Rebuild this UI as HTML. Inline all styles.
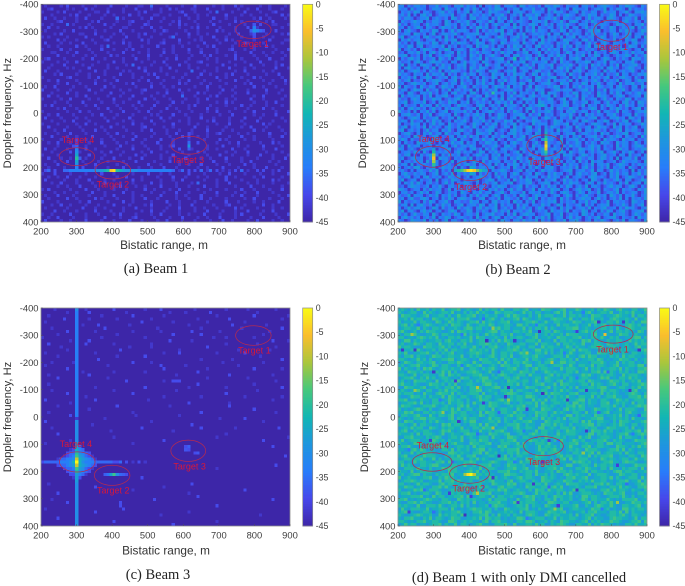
<!DOCTYPE html>
<html lang="en">
<head>
<meta charset="utf-8">
<title>Range-Doppler maps</title>
<style>
html,body{margin:0;padding:0;background:#fff;width:685px;height:586px;overflow:hidden}
svg{display:block}
text{font-family:"Liberation Sans",sans-serif}
.cap{font-family:"Liberation Serif",serif;font-size:14.5px;fill:#222}
</style>
</head>
<body>
<svg id="figure" width="685" height="586" viewBox="0 0 685 586" xmlns="http://www.w3.org/2000/svg">
<defs>
<filter id="soft" x="-2%" y="-2%" width="104%" height="104%"><feGaussianBlur stdDeviation="0.25"/></filter>
</defs>
</svg>
<script>
const rangeTicks = [200,300,400,500,600,700,800,900];
const dopplerTicks = [-400,-300,-200,-100,0,100,200,300,400];
const colorbarTicks = [0,-5,-10,-15,-20,-25,-30,-35,-40,-45];
const parulaStops = [[62,38,168],[71,71,235],[40,125,250],[30,150,222],[18,182,180],[70,200,125],[170,198,60],[250,190,45],[249,251,21]];

// Levels are hex digits: dB = -45 + 3 * digit. Spaces are ignored.
const beam1Rows = [
"01000010200001000100002000010001100300001000010002000001001000201000001001000010",
"00120000101000201000010000100020000100100201000011000200001000010010020001000100",
"10000102000010000110020000100001020000100000120001000010300001000200001000120000",
"00010000010200010000100100002001000011000100002000100100000200001001000010000201",
"02001001000100200001000030100000100200010000100100100002000100100000102001000010",
"00000120000100001020000010001200001000100010200001000010010000201000010010200000",
"10010000301000010000200100001000021000000100201000100002000010000100002000110001",
"00200100000010201000001000110000100200100000100010200100010000100020010000000100",
"01000001002000000100100002000100000010021000001000100000201000100000100100020000",
"00001020000011000200000100100001020000100001000200100100000010020001000010000102",
"10100000100000200001001000020001000100000130000100010002000100001000200100100000",
"00000201000100001000120000100000201000010000200001010000100201000000100002000011",
"02000010010002000100000100201000001000120000100100002000010000100210000100000100",
"00100100000200100001030000001000100002000010010000100102000001000000100020100000",
"10000020010000010002000100010200001000010010000200010000100012000100100000010002",
"00011000100200001000010000200001001000020010000100020000100000100002000100100100",
"00000200001000100100002010000100002000100001000010001020000100200000100010000010",
"01200001000001002000100000100020001000001002000100000100100000201000010002000100",
"10000100100200000010000200100000100010020000001000120000100010000100002000010000",
"00010002000001001000010000010300000100001000200100000100002000100002000100010200",
"00100000101000020000010010000002010000100200000100100000100020000100100000020001",
"02000100000010000200100000101000020000100001000030001000100000100200000100100000",
"00001020000100010000100002000100001020001000001000020010000102000010000010002000",
"10000000120000010020000100000100100002000010010000100000200100001000201000000100",
"00100200000100000100100020000001002000010000100200001000010000200010000100100020",
"00000100200010000200001000010200000100100000201000010010000100000102000001000010",
"01002000001000100000200100000010000200010010000001000200010000100000200100010000",
"20000100010000020001000001001000120000001000200100000100002001000010000020000100",
"00010000200100000100002000100000100001002000010000201000010000100020000010001000",
"00200100000100200000010001000200000100010000030001000010200001000000100200000010",
"10000010020000010010000200001000020010000100001000100200000100100002000100000100",
"00001000100002000001000100100002000001000020010000100000100201000000100010020000",
"01020000010000100200000010000100100020000100000102000010000100002001000010000100",
"00000102000100000010020001000010000100002001000100000200100000100010000200100000",
"10000000100020010000001000200001002000100000100010000100200010000100200000010002",
"00100200001000001002000010000100000101000020001000010000010002000000100100020000",
"02000010000100100000100100002000010000200100000100020001000010000200001000000100",
"00010001002000010000020000100100000200010000100100000102000010001000020000100010",
"10000100000100200100000010000200100010000020000100100000100020000100000201000000",
"00200000100010000001002000100000120000010010000002000100000100001002000010001000",
"00001002000001000200100000010000100200001000100010000200001001000000200100000100",
"01000100020000100000010020000100000010001002000010000100120000010010000002000010",
"00020000100100002000001000100020000100000100020000100100000010002000100001000200",
"10000010000200100001000100000200010000200010000100001000020100000100100000100000",
"00100200010000010002000010010000100002000010000100200000100010020000001000201000",
"00000100002000100000100002000100010000100120000100000100002000010010000200000100",
"02001000100000200100000010000200001000100000200010000100100002000100000100020000",
"00010000020010000001002000100000100200001000010000201000000100100020000010000100",
"10000100000100020000100001000020010000100020000100000100020001000010002000100001",
"00200010010000100001000200001000200000100100002000010010000200001000010000100020",
"00001000200001000010010000100020000010000200100010000002000100001002000001001000",
"01000200000100100200000010010000002000100000100100020000100010000200100000010000",
"00100001000002000100010000200001000100020001000000100100002000010000100020000100",
"00000000000000000000000000000000000000000000000000000000000000000000000000000000",
"10002000010000100002000100000100002000100100000200001000010020000100001000100002",
"00100100200010000100000010020000100001000020001000100100000200100000100200000100",
"02000001000100020000100100000200100000100010020000001000100200001000010000201000",
"00010020000100001000200001000100000200100001000010300000100020000010010000100001",
"00000100100020000100000102000010010000200001000100002000100000100002000100000100",
"10200000010000200010000100010000020010000100200000100010000100002000100001000200",
"00001001000100002000100000200100000100010002000100001000200000100100020000100000",
"01000200001000010000100200000100100000200001001000020000100001002000010000001002",
"00100000200100000201000010000100020001000001000100020010000100000100200001000100",
"20000100000010020000010000200100000100002000100001000100000200010000100100002000",
"00010020010000100010000200001000010200000100100020000001000120000100000200100000",
"01000000100002000100100000100020000100001000200001001000100000201000010000100100",
"00002001000100000200001000100000100200010000100001000200001000100020000100200000",
"10010000020000100010000102000010000100200000100100002000010000102000001000010002",
"00100200001000100000200001000120000010000100020000100100020000100001000200001000",
"02000010010000200001000100002000100001002000010001000010002001000010020000100100"
];
const beam1RidgeAt210Hz = "0230200334 4444444556 78de876555 5444444444 4430130202 0301302010 1020301002 0200102000";
const beam1Peaks = [
[300,108,-40],[300,119,-37],[300,131,-33],[300,143,-30],[300,154,-26],[300,166,-20],[300,177,-26],[300,189,-30],[300,200,-33],[309,166,-37],
[790,-303,-37],[799,-303,-29],[808,-303,-32],[817,-303,-36],[826,-303,-38],[799,-326,-38],[799,-314,-33],[799,-291,-38],
[615,120,-28],[615,108,-36],[615,131,-37],[615,75,-39],[615,86,-39]
];
const beam1Targets = [
["Target 1",797,-306,50,32,795,-255],
["Target 4",301,160,50,33,304,98],
["Target 2",402,209,50,33,402,261],
["Target 3",615,118,50,33,613,172]
];

// Beam 2 noise digits use their own scale, listed here by digit 0-6.
const beam2Levels = [-44,-42,-37,-35,-33,-31,-28];
const beam2Rows = [
"45142553413362452154625341503426514453165243241543652143350452413564321436542153",
"53416244312554163425145263142536641325514436225164413251643351245361425531624342",
"14352651442135625314246153412645323614553126443152645213461532541263451346215564",
"35261415635124543612451634253514462135261543641253152464312536451423651412653245",
"42553124461353241652431562344152635142153264512453621543254136245315642135426153",
"15324645132553164125346214532641541362453215453612436215641352642153245146325314",
"62413541263452165341536241425136325416143256413625145363214451263543126452315462",
"34152463154213645251341526635124154326351426153244136251451362451532641253461524",
"51463215342651413625453126142536461352141536254315326415243125646132541536421365",
"23541652413612553462134456215343162541536124534261451362543152643251364125613452",
"46125341563245162413526431544213652134625413256143526134615324513641253246315416",
"15362452134514263561241536142563245146325135416253412654231562413543261415365124",
"52413165342651241536452136541253164234516324156342153461245136251463154325146235",
"34265146123543615241325416356241431526451431562435142635153246156241353412654152",
"61352413654214365124531642153264512435616243514263541532461253421641352564213415",
"23145362514625134516241536254314263541325613461524351264153425163241564135263451",
"45613241536124356215341642513463215415623541263145263514253614265143125346415236",
"14256351423516425136421534615234561243153642615341526314564132541365214253164525",
"52341463125645231541362453164213542614356125434612516342153465124361542315462134",
"36152415643152634125461352416324515362413625145346123546215341635241426153456213",
"41563241352614536124351642653124541326154362145325146363145261342515634124652315",
"25134652415326143654231526431546213546125413652341534261546213453162541353462142",
"63421534162543615241362541532164351426345126415362134516324153462514236154132546",
"14352613465124351462536124153264153245163421563245612351426341535246132564315214",
"52461324153564213461524315263141536245132461542361534526141352463152436125413645",
"34125643512461352541632415362451261345265143124563216451342651436214531625462351",
"61532416325412653413462153245136452614351261543243651241536243516423514632145163",
"25413654162351426135243615142536124563241532645112463545123562413261435462153241",
"43165214536241351462341562135264351426153425136164521342651435216341526413524635",
"16245351426143562134516325416324151362453146325451621354261542316452135641234516",
"52314641523645124356214153263145261534126453142365124613541623451362415326514235",
"34612543612415326451436125342514635261341524165345213641532461254136243156241653",
"41523416354162534126453214651352416345216143562415234651342615341526431526341452",
"25146352413624153654124351624135261453241563241536145236451324651421536424135614",
"63241514362513461254362415134652341526431516243563124154623541326145326154213546",
"14563251436124534162135246351412653124564152361434125536214163524315462134516325",
"42135641523461324516243153641253642135146325413652414326153424561321546341652413",
"35416234152635124153462145362514326451521436542312654132451563214365124256134615",
"51326451413625416324531264315246135246143216354412653461524312564314261535412364",
"24614352615243146325145263142563125416342561341526431254163245136452163514246135",
"46135241362451536214632415324651242156341452361534162543126145365241324615354216",
"13562141536245163245134216543615231456242531641625341354612453241635124356124526",
"52341653412561324514362635124153264315246136541234516241536134562412536415324163",
"36415224531654213461532145263461521432564135216345216134562413254163542163451325",
"41523164356214152634615241326535124146325413621543246152364142531645216354126314",
"25163451324152641362453641152346215634124516342651431526354124635142316254135642",
"64135216453413256124531462415263145352164235146124536141326534625143215634124356",
"13452641621534352146253412651436235124615241536234156416325413524613462153641251",
"42561315246341526435124136524153614523461253415326241645213652413562341541623415",
"35124634125316452143562613245146324153642516341352641235146325413652416134526134",
"61342545162341352614351264162534514326152463245136254143516241635412351264345216",
"24516134532641435216246351423516241536415263153461241625341352614536124653142535",
"41352662143512645341521362453461243516324152631546213435261462413526143541632152",
"35214145326361425146325413624153465213461534126354212456134523615412635243161425",
"14632535412461352614253461524316245136412351642153634125146342561241536245143625",
"52461341562435126436125134652413625143261534514263541261345214653421536124653241",
"36124514235161342653142536124651432516243651241534612635241341652153246315412365",
"41536263145241362514365214135246135461243562134651241536452136415263421526134516",
"23146542351436214526134516342153654123461524315263514264135261453124635412563142",
"65312441526345126143526231451536241362541236154326451341256346125143246153421536",
"14524136351264125341642153624513462154326145351426314652136415326124536142354126",
"42361544125361436251341526245136415324165213643512541364152463214351642514362135",
"35146225641341526314653412561342614532514263614253416252134645136241352614153426",
"61423531526413462154232645134156243516341526124354615243514362451326145342165341",
"24516146324152635124613452651436152431625414326351264153245162413546124363152461",
"41362553412641524316245314625346135241536241364125316254134526143562341526452135",
"36145214635134125641326514253146253614352461243516345261432651341526413562134561",
"52413632541621534264135426135462341526135644123561436125341652413254163452136425",
"14635241352614365124532416245136514352461241536261345136254135246134562143251634",
"43126543614251361452163452613425164314526343615241253614562134153642135261453216"
];
const beam2Peaks = [
[300,131,-27],[300,143,-22],[300,154,-12],[300,166,-6],[300,177,-12],[300,189,-20],[300,200,-26],
[362,211,-27],[371,211,-22],[379,211,-18],[388,211,-12],[397,211,-4],[405,211,-2],[414,211,-6],[423,211,-14],[432,211,-20],[441,211,-25],[449,211,-28],[405,200,-25],[405,223,-25],
[615,63,-28],[615,75,-24],[615,86,-22],[615,97,-18],[615,108,-10],[615,120,-4],[615,131,-8],[615,143,-18],[615,154,-24],[615,166,-28],
[470,-70,-20],[530,-197,-22],[335,-240,-26],[610,-30,-26]
];
const beam2Targets = [
["Target 1",800,-303,50,39,801,-244],
["Target 4",299,160,50,39,300,94],
["Target 2",404,211,50,37,405,271],
["Target 3",612,119,50,39,612,178]
];

const beam3Rows = [
"00001000000000100000000200000000010000200000000001000000000100000010000000010000",
"00000000100000020000000000010000000000000100001000000020000000000000010000000000",
"00100000000000000001000000000200000000010000000000000000100000000000200000000001",
"00000002000000010000000010000000000100000000000000100000000020000000000000000100",
"01000000000100000000000000000000200000000010000000000100000000000100000000000000",
"00000000000001000020000000001000000000000000000100000000000002000000000010000000",
"00010000000000000000200000000000000001000000000000010000000000001000000000000200",
"00000000200000000100000000000100000000100000000020000000010000000000000001000000",
"00000100000000000000000010000000000000000020000000020000000000000000000100000000",
"10000000000000000001000000000000010000000000000000000001000100000000100000000000",
"00000000010000020000000000000000000000000200000010000000000000000000000000200001",
"00200000000000200000000100000000000100000000000000000000000100000000010000000000",
"00000010000000000000000000001000000100000000000000000200000000000000000000010000",
"00000000100000000000000002000000000000000000100000000000000000010000000001000000",
"01000000000000000100000000000000000000010000200000000000100000000200000000000000",
"00000100000000000000000010000000020000000000000000000000000000000000001000000000",
"00000000000000000020000000000000000000000000000000010000000001000000000000000200",
"00010000001000000000000000000200000100000000000000000000001000000000000100000000",
"01000000000000000000010000000000000000200000001000000000000000010000000000000000",
"00000000200000000000000000000000000000020000000000000100000000000000200000000100",
"00000000000001000000000100000000010000000000000000200000000000000000000000000000",
"00100000000000020000000000000000000000000001000000000000000020000000000000100000",
"00000200000000000000010000000000000000000000000000000100000000000010000000000000",
"00000000000000000000000000020000000000010000100000000000000000000000000000010000",
"00100000000100000000000000000000000000000000000000200000000000000000100000000000",
"00000000000000000100000000000000020000000000000100000000000100000000000000000200",
"00010000000000000000000100000000000000000001000000000000000000000000010000000000",
"00000000200000000000000000000200000000000000000000000000000200000000000000000000",
"00000000000000100000000000000000000000010000000000010000000000000100000000000100",
"02000000000000000200000000000000001000000000000000000000000000000000000000100000",
"00000000010000000000000000000000000000000000000200000000000010000000000000000000",
"00000100000000000000000020000000000000000100000000000000000020000000000000000000",
"00000000000000010000000000000000000000000000000000000000000000000000200000000000",
"00100000000000000000000000000100000000000000000000020000000000000000000000010000",
"00000000020000000000000000000010000000000000100000000000000000000000000000000000",
"00000000000000000000100000000000000000000000000000000000010000000200000000000000",
"02000000000000000000000000000000000100000000000000000000000000000000000100000000",
"00000000000000001000000000000000000000000000000020000000000000000000000000000000",
"00010000000000000000000000000000200000000000000000020000000000100000000000002000",
"00000000000000000000001000000000000000000010000000000000000000000000000000000000",
"00000200000000000000000000000000000000000000000000000000000100000000000000000000",
"00000000000000000000000100000000000000000000000000000000100000000000000000000001",
"00000000010000000000000000000000000000020000000000000000000000000000000200000000",
"01000000000000000000000000000100000000000000000000000000000000000000000000000000",
"0000000000 0230000000 0000000000 0000000000 0000002000 0000000000 0000000000 0000200000",
"0000000001 2343000000 0000000000 0000000000 0000000200 0000000000 0000000000 0000000000",
"0000000023 3454320000 0000000000 0000000000 0000000002 0000000000 0000000000 0000000000",
"0000000123 4565321000 0000000000 0000000000 0000000000 0000000000 0000000000 0000000020",
"0000013344 5676543100 0000000000 0000000000 0000000000 0000000000 0000000000 0000000000",
"0000000000 0000000000 0000000000 0000000000 0000000000 0000000000 0000000000 0000000000",
"0000023345 6676543200 0000000000 0000000000 0000000000 0000000000 0000000000 0000020000",
"0000000233 4565321000 0000000000 0000000000 0000000000 0000001000 0000000000 0000000000",
"0000000023 3454320000 0000000000 0000000000 0000000000 0000000000 0000000000 0000000000",
"0000000002 2343100000 0000000000 0000000000 0000000000 0000000000 0000000000 0000000000",
"0000000000 1320000000 0000000000 0020000000 0000000000 0000000000 0000000000 0000000000",
"00000000000000000000000000000000000000000000000000000000000000000000000000000000",
"00100000000000000000000000000000000000000000000020000000000000000000000000000000",
"00000000000000000200000000000000000000010000000000000000000000000000000000000000",
"00000000000000000000000000000100000000000000000000000000000000000200000000000000",
"00000200000000000000000000000000000000000000000100000000000000000000000000000000",
"00000000000000000000000000000000000000000000000000200000000000000000000000000000",
"00010000000000000000000000000000000020000000000000000000000000000000000000200000",
"00000000200000000000000002000000000000000000000000000000000000000000000000000000",
"00000000000000000000000002000000000000000000000000000000200000000000000000000000",
"01000000000000000000000000200000000000000000000000000000000000000000000000000000",
"00000000000000000200000000000000000000000000000100000000000000000000000000000000",
"00000000000000000000000000000000000000100000000000000000000000000000001000000000",
"00000200000000000000000000000000000000000000000000000000000000000000000000000000",
"00000000000000000000000200000000000000000000000000000000100000000000000000000000",
"00000000000000000000000000000000000000000020000000000000000000000000000000000000"
];
const beam3RidgeAt160Hz = "2333334445 7f75444333 3332230201 0201000000 0000000000 0000000000 0000000000 0000000000";
const beam3RidgeAt300m = "5444444444 4444444444 4444444444 44444 1 5555 55566 789c f c986 665555 5555555555";
const beam3Peaks = [
[379,211,-37],[388,211,-35],[397,211,-26],[405,211,-18],[414,211,-30],[423,211,-36],[432,211,-37],[441,211,-39],
[615,108,-37],[605,120,-38],[640,131,-38],[570,-130,-39],[578,-130,-39],[587,-130,-39]
];
const beam3Targets = [
["Target 1",797,-299,50,36,800,-244],
["Target 4",302,165,50,37,298,98],
["Target 2",400,214,50,37,403,269],
["Target 3",614,124,49,39,618,180]
];

const beam4Rows = [
"78768697786877967889678767968788697768878967769887678967798677868798768977688679",
"87678866978767887967686879787669878887679786886776897968677889767887966878797768",
"69887767896778868679778896768778668979877686797888677968878676988767789877696887",
"77869788676987787968889766787897686778969876787668988779676887977866898778769678",
"86777968877698679878767889697876788967767889867976887767988677896768879778686799",
"78968677898767786988769767887986778876997867888767697887786779687896877668987867",
"67887796876887967787689978867678978867779686887968767788996787677887869768987788",
"89767868798877667969887867767899687768878796677886987677687897886767968878776986",
"76888976677986887767896878679787688796776887967868778698887776896787667988678776",
"88677689878796768878677969886778769687887678967787698877889676887976878667789968",
"67996878767788689776887967887686979877676888796776968878776989687768778866978787",
"78677987688769778868796767889878676987788677968877696887877966788769878678679788",
"97887666988778978676887797686889767878977688669788776798687767889967887678768977",
"68778897677868796887766987878697677889868767997878668778969887667788796878776989",
"87966778897686878967767889877697688786798776887968678879767788669887977687688778",
"76889687767988678877966878767897688796678878977667888697768979886776878697887767",
"88767797868677889967887676988778697868777968876789768878696778879867677988768678",
"67987688778967668879877697688877969768879876786887679978867776888976779687886768",
"78678897767986887668779878966787698877867996788767888679768877968876789677887996",
"96877686989767887877966887687897667889767868978877669788876796878677887968776889",
"77698878676887979686778898767966887787698878667987877688796776889697876878676998",
"88767967887768969878667788977686898767888697776789687887667989767878876697888767",
"67889768797867887676988677899678768878967767886987776868797887667989676887978776",
"78676988877696787889677868798876676988778867976887689678778869877667988786787967",
"89776876679887868796778876689978677887968767889677969887767886978767897688677898",
"66988778967787688979676887867789968877667988767896877868696778878997667887687978",
"78767897688668797887676889967877688796887767978866879787668897776987887676889677",
"87888676977689887968767888696778678998767887676979887768896677887968787667898768",
"76679887868777969876887678978867769687887998767686878797768877968678897766888979",
"88967768776889679878768667988767897687887669787968877867789968776887679878678887",
"67788979676887869778868697766988778967687887969767887786997868776889678787696887",
"79887667888976787768979676887988766787889677968878767688979867766888797686778989",
"86767898768667887979678867887696788776988678769887676897878866798778767968887669",
"77989676887878667987886776969887688779786677988867978766887696788789677868977678",
"68877897669768878967887677986887667897888676978868776799687877698867787968676888",
"87676889978877668968797887667978868776896778869787687968887677889966787878697767",
"76988677868797767889687996677887968768778897666987887767886979768877686988767789",
"88767968877676989788676887969778667888976877669887978768677889968776787987688678",
"67879788669876878877967688798876778668977887699678768887967787886679887778696768",
"78966877887667989767888676977868897667889767968877686798877666988797867678878969",
"87778696888767967877689887676988778966787689878867697788876679968787767889677898",
"66889777687898667887967876888697767998768877686987887867769789667888767968877686",
"79678886776987868777966887988676787889677698878766889767987866778897687876679888",
"87767998678876687897766988778967688877969676888797668778896787768869978867776789",
"68897667787889967678878697887766989767888766797887868679776889678877669887687978",
"77688979867766887968778678996877687888967766798878976678787698887667889796876777",
"86779687888767669987877688969778676887978866779688897676887778969678877869776887",
"78966777988876687879768896677887979686887767988767689788678779687888966776887698",
"67887889767968677888966879787667889878676997887768678969778886776987876788679778",
"88676978877688969767788986677898766887697887968677887766989878676788977689887667",
"79787668878997676887797686888967767988778667968878876799667887697887868776679888",
"66888797768677989886767877968887667889778966876788979767688798776886977687888696",
"87769678888767769887678979687766888977687887966778698878677896887767689978876778",
"78678996877687888967767698878776679988767886977868766898787769678887667987788676",
"96787767889668798876777889676988678767897887669878767688977896677887968767888697",
"67889878667779688979767866887897776896788768769887677988668787977886767889677968",
"88676797887668978877696788867698777989676887887966787698887767688979768876667898",
"77988678766889797687888677968766897887676988778868979667787688896776887978766889",
"86677989768887667887969778676887989767877686988697788767968877666889797887687768",
"78896767887698678878776697888967768778898667978877686979667888767698877896676887",
"67778889676978867788969767887696887787668989776867988778676997887667888797686778",
"88967677898776887669878787767968888676977889676887968778667986887779767688889677",
"76688979877667889786878696776888977679687888767699877886776789686887978667798878",
"87877696688879767887968676778989887667887968776987688777896687689877976688778967",
"69768887796778886976767898877868669877788967687678989667887767988878676699787887",
"78987667887968677889767688979866778787696888766798878967677868897776887969687776",
"87667898778669787887967677889686977868776898766987887778696788967667887897688767",
"76889776879688767988667787969878867677998767888677968778876789687766898877679688",
"88767688977887669986787877689688977676887998677868769887767896878677988766788969",
"67978867767889687796887678977668889769677887978668789876688779687988767668879778"
];
const beam4Peaks = [
[388,211,-12],[397,211,-3],[405,211,0],[414,211,-10],
[780,-300,-7],[420,-105,-11],[470,40,-12],[240,-300,-12],[630,-195,-12],[420,280,-10],[330,-20,-13],[560,-240,-13],[720,130,-13],[470,-330,-13],[250,-100,-13],[820,310,-12],[640,340,-13],[510,-60,-13],
[530,-285,-42],[700,-310,-41],[730,-100,-42],[610,-90,-43],[680,-60,-42],[620,90,-41],[402,295,-41],[390,355,-43],[250,-250,-42],[440,-50,-41],[470,225,-42],[370,20,-42],[290,80,-41],[760,-345,-42],[210,-250,-42],[610,165,-41],[340,280,-41],[510,-110,-43],[850,-100,-42],[830,-345,-42],[560,-30,-41],
[600,-320,-43],[505,-70,-42],[360,-130,-41],[580,250,-42],[650,320,-41],[480,140,-43],[230,350,-41],[730,50,-42],[820,180,-41],[300,-170,-42],[445,-280,-43],[700,270,-42],[540,310,-41],[880,-250,-42],
[260,-340,-33],[380,-190,-33],[480,-170,-35],[670,-230,-33],[790,-170,-36],[320,-60,-34],[420,60,-35],[550,50,-33],[760,-20,-35],[860,60,-34],[270,270,-35],[460,320,-33],[620,260,-36],[770,340,-34],[530,170,-33],[840,240,-35],[350,160,-36],[700,-140,-34],[590,-340,-33],[230,120,-34],[440,-360,-35],[650,90,-33],[880,-10,-36],[720,-380,-33],[300,350,-35],[560,370,-34],[480,-20,-36],[380,-300,-34]
];
const beam4Targets = [
["Target 1",805,-304,56,33,803,-249],
["Target 4",296,165,56,34,298,103],
["Target 2",401,208,56,35,399,262],
["Target 3",609,107,56,35,610,164]
];

const NS = "http://www.w3.org/2000/svg";
const figure = document.getElementById("figure");

const panels = [
 {id:"beam-1", x:41, y:4.3, w:249, h:217.7, cbX:302.7, ylabelX:7, xlabelX:164, xlabelY:249, capX:156, capY:273, caption:"(a) Beam 1", base:-44, levels:null,
  rows:beam1Rows, hCuts:[[210,beam1RidgeAt210Hz]], vCuts:[], peaks:beam1Peaks, targets:beam1Targets},
 {id:"beam-2", x:398, y:4.3, w:249, h:217.7, cbX:659.5, ylabelX:362, xlabelX:522, xlabelY:249, capX:518, capY:274, caption:"(b) Beam 2", base:-33, levels:beam2Levels,
  rows:beam2Rows, hCuts:[], vCuts:[], peaks:beam2Peaks, targets:beam2Targets},
 {id:"beam-3", x:41, y:308, w:249, h:218, cbX:302.7, ylabelX:7, xlabelX:166, xlabelY:554.5, capX:158, capY:579, caption:"(c) Beam 3", base:-44, levels:null,
  rows:beam3Rows, hCuts:[[160,beam3RidgeAt160Hz]], vCuts:[[300,beam3RidgeAt300m]], peaks:beam3Peaks, targets:beam3Targets},
 {id:"beam-1-dmi", x:398, y:308, w:249, h:218, cbX:659.5, ylabelX:364, xlabelX:522, xlabelY:554.5, capX:519, capY:582, caption:"(d) Beam 1 with only DMI cancelled", base:-22, levels:null,
  rows:beam4Rows, hCuts:[], vCuts:[], peaks:beam4Peaks, targets:beam4Targets}
];

const COLS = 80, ROWS = 70;
const RANGE_MIN = 200, RANGE_MAX = 900, DOP_MIN = -400, DOP_MAX = 400;

function parula(db){
  const t = Math.max(0, Math.min(1, (db + 45) / 45)) * (parulaStops.length - 1);
  const i = Math.min(parulaStops.length - 2, Math.floor(t));
  const f = t - i;
  const a = parulaStops[i], b = parulaStops[i + 1];
  return "rgb(" + [0,1,2].map(k => Math.round(a[k] + (b[k] - a[k]) * f)).join(",") + ")";
}
function levelDb(ch){ return -45 + 3 * parseInt(ch, 16); }
function colOf(range){ return Math.min(COLS - 1, Math.max(0, Math.floor((range - RANGE_MIN) / (RANGE_MAX - RANGE_MIN) * COLS))); }
function rowOf(dop){ return Math.min(ROWS - 1, Math.max(0, Math.floor((dop - DOP_MIN) / (DOP_MAX - DOP_MIN) * ROWS))); }

function buildGrid(p){
  const grid = [];
  for (let r = 0; r < ROWS; r++){
    const line = (p.rows[r] || "").replace(/ /g, "");
    const row = [];
    for (let c = 0; c < COLS; c++){
      if (c >= line.length) row.push(p.base);
      else if (p.levels) row.push(p.levels[parseInt(line[c], 16)]);
      else row.push(levelDb(line[c]));
    }
    grid.push(row);
  }
  p.hCuts.forEach(cut => {
    const r = rowOf(cut[0]);
    const line = cut[1].replace(/ /g, "");
    for (let c = 0; c < COLS && c < line.length; c++) grid[r][c] = Math.max(grid[r][c], levelDb(line[c]));
  });
  p.vCuts.forEach(cut => {
    const c = colOf(cut[0]);
    const line = cut[1].replace(/ /g, "");
    for (let r = 0; r < ROWS && r < line.length; r++) grid[r][c] = levelDb(line[r]);
  });
  p.peaks.forEach(pk => {
    const r = rowOf(pk[1]), c = colOf(pk[0]);
    grid[r][c] = pk[2];
  });
  return grid;
}

panels.forEach(p => {
  const xOf = v => p.x + (v - RANGE_MIN) / (RANGE_MAX - RANGE_MIN) * p.w;
  const yOf = v => p.y + (v - DOP_MIN) / (DOP_MAX - DOP_MIN) * p.h;
  const cbW = 10;
  const dbY = v => p.y + (0 - v) / 45 * p.h;

  const panel = document.createElementNS(NS, "g");
  
  
  figure.appendChild(panel);

  const clip = document.createElementNS(NS, "clipPath");
  clip.setAttribute("id", "clip-" + p.id);
  const clipRect = document.createElementNS(NS, "rect");
  clipRect.setAttribute("x", p.x);
  clipRect.setAttribute("y", p.y);
  clipRect.setAttribute("width", p.w);
  clipRect.setAttribute("height", p.h);
  clip.appendChild(clipRect);
  panel.appendChild(clip);

  const clipGroup = document.createElementNS(NS, "g");
  clipGroup.setAttribute("clip-path", "url(#clip-" + p.id + ")");
  panel.appendChild(clipGroup);

  const heat = document.createElementNS(NS, "g");
  heat.setAttribute("filter", "url(#soft)");
  heat.setAttribute("shape-rendering", "crispEdges");
  
  
  clipGroup.appendChild(heat);

  const grid = buildGrid(p);
  const cellW = xOf(RANGE_MIN + (RANGE_MAX - RANGE_MIN) / COLS) - xOf(RANGE_MIN);
  const cellH = yOf(DOP_MIN + (DOP_MAX - DOP_MIN) / ROWS) - yOf(DOP_MIN);
  for (let r = 0; r < ROWS; r++){
    for (let c = 0; c < COLS; c++){
      const cell = document.createElementNS(NS, "rect");
      cell.setAttribute("x", (xOf(RANGE_MIN + c * (RANGE_MAX - RANGE_MIN) / COLS)).toFixed(2));
      cell.setAttribute("y", (yOf(DOP_MIN + r * (DOP_MAX - DOP_MIN) / ROWS)).toFixed(2));
      cell.setAttribute("width", (cellW + 0.3).toFixed(2));
      cell.setAttribute("height", (cellH + 0.3).toFixed(2));
      cell.setAttribute("fill", parula(grid[r][c]));
      
      
      heat.appendChild(cell);
    }
  }

  const frame = document.createElementNS(NS, "rect");
  frame.setAttribute("x", p.x);
  frame.setAttribute("y", p.y);
  frame.setAttribute("width", p.w);
  frame.setAttribute("height", p.h);
  frame.setAttribute("fill", "none");
  frame.setAttribute("stroke", "#8c8c8c");
  frame.setAttribute("stroke-width", "0.8");
  
  
  panel.appendChild(frame);

  rangeTicks.forEach(v => {
    const mark = document.createElementNS(NS, "line");
    mark.setAttribute("x1", xOf(v));
    mark.setAttribute("x2", xOf(v));
    mark.setAttribute("y1", p.y + p.h);
    mark.setAttribute("y2", p.y + p.h - 2);
    mark.setAttribute("stroke", "#555");
    mark.setAttribute("stroke-width", "0.5");
    
    
    panel.appendChild(mark);
    const label = document.createElementNS(NS, "text");
    label.setAttribute("x", xOf(v));
    label.setAttribute("y", p.y + p.h + 12.5);
    label.setAttribute("text-anchor", "middle");
    label.setAttribute("font-size", "9.4");
    label.setAttribute("fill", "#3c3c3c");
    
    
    label.textContent = v;
    panel.appendChild(label);
  });

  dopplerTicks.forEach(v => {
    const mark = document.createElementNS(NS, "line");
    mark.setAttribute("x1", p.x);
    mark.setAttribute("x2", p.x + 2);
    mark.setAttribute("y1", yOf(v));
    mark.setAttribute("y2", yOf(v));
    mark.setAttribute("stroke", "#555");
    mark.setAttribute("stroke-width", "0.5");
    
    
    panel.appendChild(mark);
    const label = document.createElementNS(NS, "text");
    label.setAttribute("x", p.x - 2.5);
    label.setAttribute("y", yOf(v) + 3.3);
    label.setAttribute("text-anchor", "end");
    label.setAttribute("font-size", "9.4");
    label.setAttribute("fill", "#3c3c3c");
    
    
    label.textContent = v;
    panel.appendChild(label);
  });

  const xTitle = document.createElementNS(NS, "text");
  xTitle.setAttribute("x", p.xlabelX);
  xTitle.setAttribute("y", p.xlabelY);
  xTitle.setAttribute("text-anchor", "middle");
  xTitle.setAttribute("font-size", "11.8");
  xTitle.setAttribute("fill", "#333");
  
  
  xTitle.textContent = "Bistatic range, m";
  panel.appendChild(xTitle);

  const yTitle = document.createElementNS(NS, "text");
  const yMid = p.y + p.h / 2;
  yTitle.setAttribute("transform", "translate(" + (p.ylabelX + 4) + "," + yMid + ") rotate(-90)");
  yTitle.setAttribute("text-anchor", "middle");
  yTitle.setAttribute("font-size", "11.2");
  yTitle.setAttribute("fill", "#333");
  
  
  yTitle.textContent = "Doppler frequency, Hz";
  panel.appendChild(yTitle);

  const bar = document.createElementNS(NS, "g");
  
  
  panel.appendChild(bar);
  const steps = 128;
  for (let i = 0; i < steps; i++){
    const db = -(i + 0.5) / steps * 45;
    const seg = document.createElementNS(NS, "rect");
    seg.setAttribute("x", p.cbX);
    seg.setAttribute("y", (p.y + i / steps * p.h).toFixed(2));
    seg.setAttribute("width", cbW);
    seg.setAttribute("height", (p.h / steps + 0.4).toFixed(2));
    seg.setAttribute("fill", parula(db));
    
    
    bar.appendChild(seg);
  }
  const barFrame = document.createElementNS(NS, "rect");
  barFrame.setAttribute("x", p.cbX);
  barFrame.setAttribute("y", p.y);
  barFrame.setAttribute("width", cbW);
  barFrame.setAttribute("height", p.h);
  barFrame.setAttribute("fill", "none");
  barFrame.setAttribute("stroke", "#8c8c8c");
  barFrame.setAttribute("stroke-width", "0.7");
  
  
  bar.appendChild(barFrame);
  colorbarTicks.forEach(v => {
    const label = document.createElementNS(NS, "text");
    label.setAttribute("x", p.cbX + cbW + 3);
    label.setAttribute("y", dbY(v) + 3);
    label.setAttribute("font-size", "8.8");
    label.setAttribute("fill", "#3c3c3c");
    
    
    label.textContent = v;
    bar.appendChild(label);
  });

  p.targets.forEach(t => {
    const ring = document.createElementNS(NS, "ellipse");
    ring.setAttribute("cx", xOf(t[1]));
    ring.setAttribute("cy", yOf(t[2]));
    ring.setAttribute("rx", t[3] / (RANGE_MAX - RANGE_MIN) * p.w);
    ring.setAttribute("ry", t[4] / (DOP_MAX - DOP_MIN) * p.h);
    ring.setAttribute("fill", "none");
    ring.setAttribute("stroke", "#b52a50");
    ring.setAttribute("stroke-width", "0.75");
    
    
    panel.appendChild(ring);
    const label = document.createElementNS(NS, "text");
    label.setAttribute("x", xOf(t[5]));
    label.setAttribute("y", yOf(t[6]) + 3.2);
    label.setAttribute("text-anchor", "middle");
    label.setAttribute("font-size", "9");
    label.setAttribute("fill", "#d8183a");
    
    
    label.textContent = t[0];
    panel.appendChild(label);
  });

  const caption = document.createElementNS(NS, "text");
  caption.setAttribute("x", p.capX);
  caption.setAttribute("y", p.capY);
  caption.setAttribute("text-anchor", "middle");
  caption.setAttribute("class", "cap");
  
  
  caption.textContent = p.caption;
  panel.appendChild(caption);
});
</script>
</body>
</html>
